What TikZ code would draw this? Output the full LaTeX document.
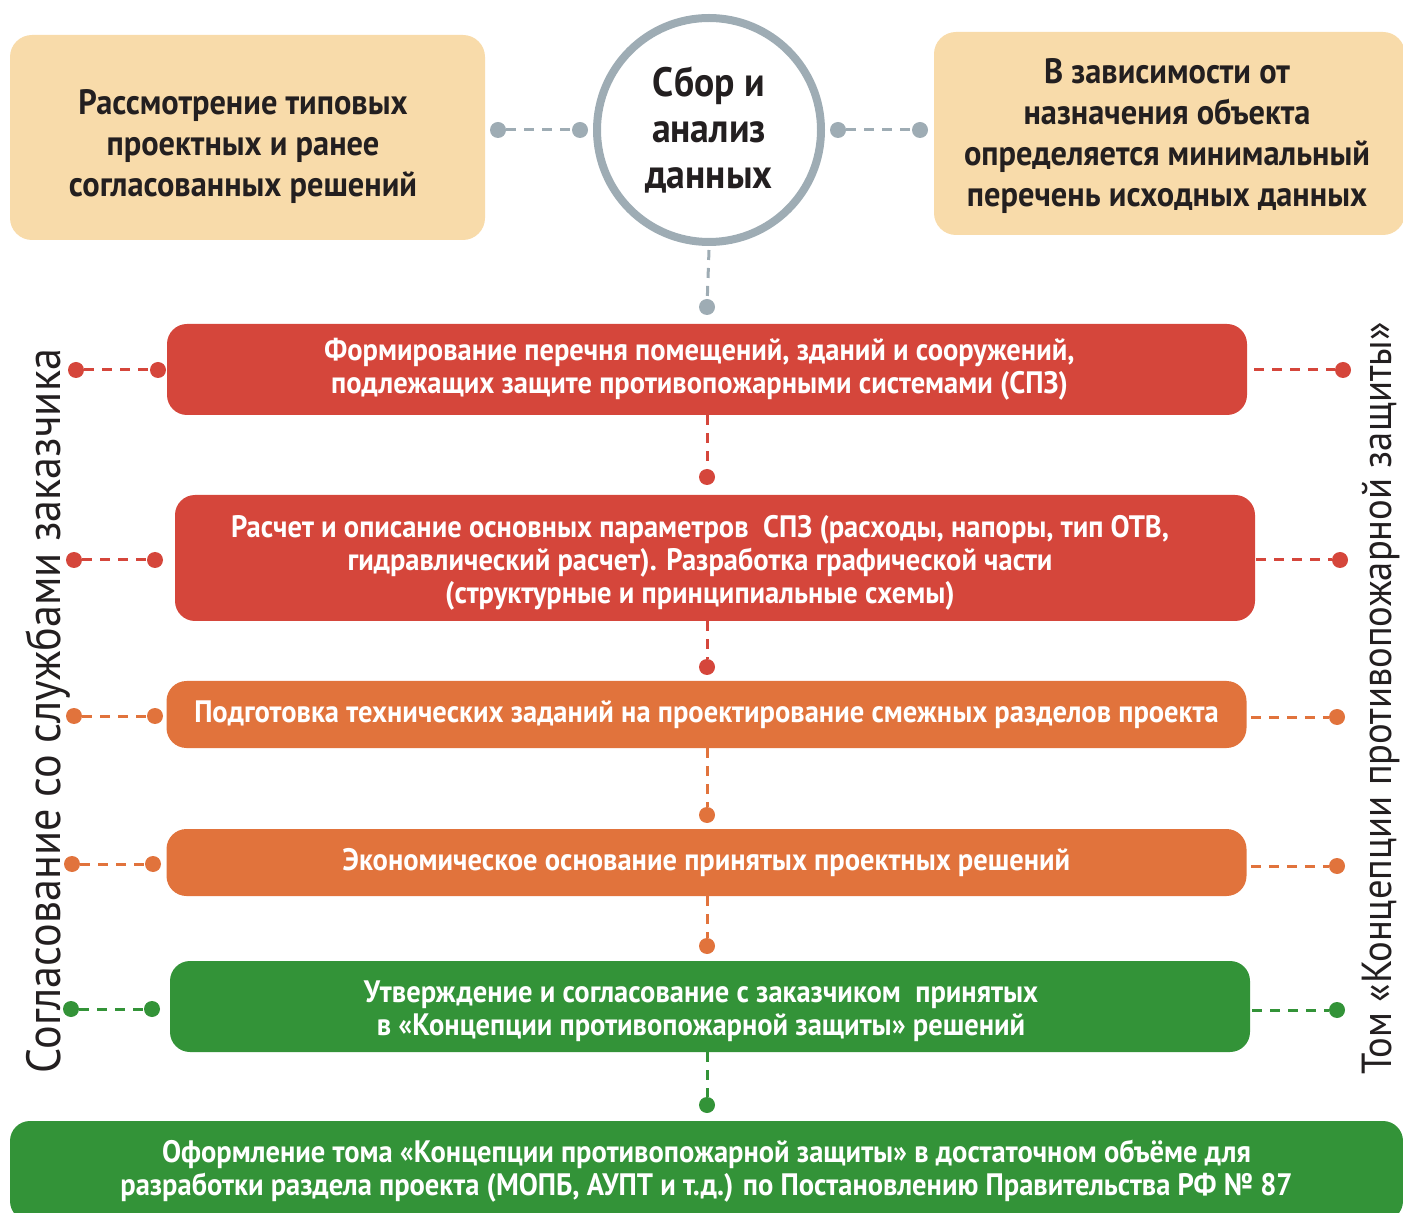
\documentclass[tikz,border=0pt]{standalone}
\usepackage{fontspec}
\setmainfont{PT Sans}[FakeStretch=0.92]
\usepackage{xcolor}
\usetikzlibrary{positioning}
\definecolor{FPBeige}{RGB}{248, 219, 170}
\definecolor{FPGray}{RGB}{158, 172, 180}
\definecolor{FPRed}{RGB}{213, 70, 59}
\definecolor{FPOrange}{RGB}{225, 115, 60}
\definecolor{FPGreen}{RGB}{51, 147, 56}
\definecolor{FPText}{RGB}{35, 31, 32}

\begin{document}
\begin{tikzpicture}[x=0.5pt,y=-0.5pt,
  steptext/.style={inner sep=0pt, align=center, text=white,
    font=\fontsize{15.5}{16.5}\selectfont\bfseries},
  stepbox/.style={steptext, rounded corners=10pt, minimum width=540pt},
  notetext/.style={inner sep=0pt, align=center, text=FPText,
    font=\fontsize{17.6}{20.5}\selectfont\bfseries},
  notebox/.style={fill=FPBeige, rounded corners=11pt, inner sep=0pt},
  joint/.style={circle, fill, inner sep=0pt, minimum size=8pt},
  link/.style={line width=1.5pt, dash pattern=on 5pt off 4pt},
  sidetext/.style={rotate=90, anchor=base, inner sep=0pt, text=FPText}]
  \path[use as bounding box] (0,0) rectangle (1403,1213);
  \clip (0,0) rectangle (1403,1213);

  % top row
  \node[notebox, minimum width=237.5pt, minimum height=102.5pt] (typical) at (247.5,137.5) {};
  \node[notetext] (typicaltext) at (243,147) {
    Рассмотрение типовых\\ проектных и ранее\\ согласованных решений};
  \node[notebox, minimum width=235.5pt, minimum height=101.5pt] (minlist) at (1169.5,133.5) {};
  \node[notetext] (minlisttext) at (1167,136.5) {
    В зависимости от\\ назначения объекта\\ определяется минимальный\\ перечень исходных данных};
  \node[circle, draw=FPGray, line width=4pt, minimum size=112pt, inner sep=0pt, align=center,
    text=FPText, font=\fontsize{20.5}{23}\selectfont\bfseries] (collect) at (709,130) {
    Сбор и\\ анализ\\ данных};

  \node[joint, FPGray] (gl1) at (498,130) {};
  \node[joint, FPGray] (gl2) at (580,130) {};
  \node[joint, FPGray] (gr1) at (838,130) {};
  \node[joint, FPGray] (gr2) at (920,130) {};
  \node[joint, FPGray] (gd) at (707,307) {};
  \draw[link, FPGray] (gl1) -- (gl2);
  \draw[link, FPGray] (gr1) -- (gr2);
  \draw[link, FPGray] ([yshift=-2pt]collect.south) -- (gd);

  % steps
  \node[stepbox, fill=FPRed, minimum height=45.5pt] (form) at (707,369.5) {};
  \node[steptext] (formtext) at (699.5,369.5) {
    Формирование перечня помещений, зданий и сооружений,\\
    подлежащих защите противопожарными системами (СПЗ)};
  \node[stepbox, fill=FPRed, minimum height=63pt] (calc) at (715,558) {};
  \node[steptext] (calctext) at (700,562.5) {
    Расчет и описание основных параметров \ СПЗ (расходы, напоры, тип ОТВ,\\
    гидравлический расчет). Разработка графической части\\
    (структурные и принципиальные схемы)};
  \node[stepbox, fill=FPOrange, minimum height=33.5pt] (tasks) at (706.5,714.5) {
    Подготовка технических заданий на проектирование смежных разделов проекта};
  \node[stepbox, fill=FPOrange, minimum height=33.5pt] (econ) at (706.5,862.5) {
    Экономическое основание принятых проектных решений};
  \node[stepbox, fill=FPGreen, minimum height=45.5pt] (approve) at (710,1006.5) {};
  \node[steptext] (approvetext) at (701,1011) {
    Утверждение и согласование с заказчиком \ принятых\\
    в «Концепции противопожарной защиты» решений};
  \node[stepbox, fill=FPGreen, minimum width=696.5pt, minimum height=50pt] (volume) at (706.5,1171) {
    Оформление тома «Концепции противопожарной защиты» в достаточном объёме для\\
    разработки раздела проекта (МОПБ, АУПТ и т.д.) по Постановлению Правительства РФ № 87};

  % vertical chain
  \node[joint, FPRed] (d1) at (707,477) {};
  \node[joint, FPRed] (d2) at (707,667) {};
  \node[joint, FPOrange] (d3) at (707,815) {};
  \node[joint, FPOrange] (d4) at (707,946) {};
  \node[joint, FPGreen] (d5) at (707,1105) {};
  \draw[link, FPRed] (form.south -| d1) -- (d1);
  \draw[link, FPRed] (calc.south -| d2) -- (d2);
  \draw[link, FPOrange] (tasks.south -| d3) -- (d3);
  \draw[link, FPOrange] (econ.south -| d4) -- (d4);
  \draw[link, FPGreen] (approve.south -| d5) -- (d5);

  % side links
  \node[joint, FPRed] (l1a) at (76,370) {};
  \node[joint, FPRed] (l1b) at (158,370) {};
  \node[joint, FPRed] (l2a) at (74,560) {};
  \node[joint, FPRed] (l2b) at (155,560) {};
  \node[joint, FPOrange] (l3a) at (74,716) {};
  \node[joint, FPOrange] (l3b) at (155,716) {};
  \node[joint, FPOrange] (l4a) at (72,864) {};
  \node[joint, FPOrange] (l4b) at (153,864) {};
  \node[joint, FPGreen] (l5a) at (71,1009) {};
  \node[joint, FPGreen] (l5b) at (152,1009) {};
  \draw[link, FPRed] (l1a) -- (l1b);
  \draw[link, FPRed] (l2a) -- (l2b);
  \draw[link, FPOrange] (l3a) -- (l3b);
  \draw[link, FPOrange] (l4a) -- (l4b);
  \draw[link, FPGreen] (l5a) -- (l5b);

  \node[joint, FPRed] (r1) at (1343,370) {};
  \node[joint, FPRed] (r2) at (1340,560) {};
  \node[joint, FPOrange] (r3) at (1337,717) {};
  \node[joint, FPOrange] (r4) at (1337,866) {};
  \node[joint, FPGreen] (r5) at (1337,1010) {};
  \draw[link, FPRed] ([xshift=3.5pt]form.east |- r1) -- (r1);
  \draw[link, FPRed] ([xshift=0.5pt]calc.east |- r2) -- (r2);
  \draw[link, FPOrange] ([xshift=2pt]tasks.east |- r3) -- (r3);
  \draw[link, FPOrange] ([xshift=2pt]econ.east |- r4) -- (r4);
  \draw[link, FPGreen] ([xshift=1pt]approve.east |- r5) -- (r5);

  % side captions
  \node[sidetext, font=\fontsize{24}{26}\selectfont] (client) at (60,711) {Согласование со службами заказчика};
  \node[sidetext, font=\fontsize{21}{23}\selectfont] (tome) at (1391,698.5) {Том «Концепции противопожарной защиты»};
\end{tikzpicture}
\end{document}
